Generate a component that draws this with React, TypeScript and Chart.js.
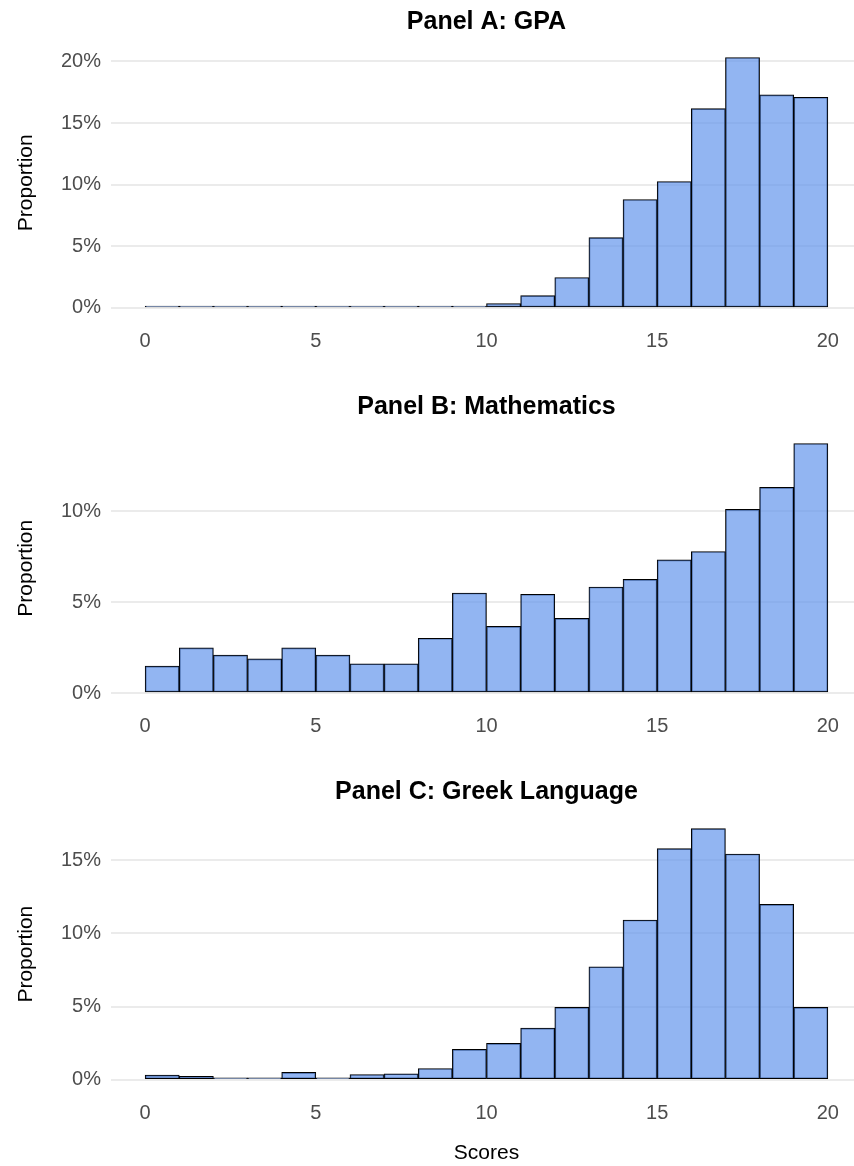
import { useEffect, useRef } from "react";
import { Chart, registerables } from "chart.js";

Chart.register(...registerables);

// Histogram bins: [start, start + 1) for scores 0..20
const binStarts = [0, 1, 2, 3, 4, 5, 6, 7, 8, 9, 10, 11, 12, 13, 14, 15, 16, 17, 18, 19];
const xTicks = [0, 5, 10, 15, 20];

// Share of students per bin, in percent
const gpaShare = [0.08, 0.02, 0.1, 0.01, 0.01, 0.01, 0.01, 0.04, 0.04, 0.05, 0.36, 1.0, 2.47, 5.71, 8.8, 10.26, 16.18, 20.32, 17.29, 17.1];
const mathShare = [1.48, 2.48, 2.08, 1.88, 2.48, 2.08, 1.61, 1.61, 3.01, 5.5, 3.66, 5.43, 4.1, 5.83, 6.25, 7.32, 7.78, 10.1, 11.31, 13.72];
const greekShare = [0.32, 0.23, 0.09, 0.09, 0.5, 0.05, 0.36, 0.41, 0.77, 2.07, 2.48, 3.53, 4.94, 7.72, 10.91, 15.79, 17.16, 15.42, 11.98, 4.94];

const gpaTicks = [0, 5, 10, 15, 20];
const mathTicks = [0, 5, 10];
const greekTicks = [0, 5, 10, 15];

const FONT = "'Liberation Sans', Arial, Helvetica, sans-serif";
const CANVAS_W = 870;
const AREA_LEFT = 111;
const AREA_RIGHT = 862;
const TICK_COLOR = "#4d4d4d";
const GRID_COLOR = "#ebebeb";
const BAR_FILL = "rgba(100, 149, 237, 0.7)";

type PanelSpec = {
  title: string;
  values: number[];
  yTicks: number[];
  top: number;
  height: number;
  areaTop: number;
  xAxisHeight: number;
  xTitle?: string;
};

const panels: PanelSpec[] = [
  { title: "Panel A: GPA", values: gpaShare, yTicks: gpaTicks, top: 0, height: 385, areaTop: 45, xAxisHeight: 64.5 },
  { title: "Panel B: Mathematics", values: mathShare, yTicks: mathTicks, top: 385, height: 385, areaTop: 46, xAxisHeight: 64.5 },
  { title: "Panel C: Greek Language", values: greekShare, yTicks: greekTicks, top: 770, height: 396, areaTop: 46, xAxisHeight: 73.7, xTitle: "Scores" },
];

function HistogramPanel({ spec }: { spec: PanelSpec }) {
  const ref = useRef<HTMLCanvasElement | null>(null);

  useEffect(() => {
    const canvas = ref.current;
    if (!canvas) return;
    const peak = Math.max(...spec.values);

    const textPlugin = {
      id: "panelText",
      afterDraw(chart: any) {
        const { ctx, chartArea } = chart;
        const cx = (chartArea.left + chartArea.right) / 2;
        ctx.save();
        ctx.fillStyle = "#000000";
        ctx.textBaseline = "alphabetic";
        ctx.textAlign = "center";
        ctx.font = `bold 25px ${FONT}`;
        ctx.fillText(spec.title, cx, 28.5);

        ctx.font = `21px ${FONT}`;
        ctx.save();
        ctx.translate(32, (chartArea.top + chartArea.bottom) / 2);
        ctx.rotate(-Math.PI / 2);
        ctx.fillText("Proportion", 0, 0);
        ctx.restore();

        if (spec.xTitle) {
          ctx.fillText(spec.xTitle, cx, spec.height - 7);
        }
        ctx.restore();
      },
    };

    const chart = new Chart(canvas, {
      type: "bar",
      data: {
        datasets: [
          {
            data: spec.values.map((v, i) => ({ x: binStarts[i] + 0.5, y: v })),
            backgroundColor: BAR_FILL,
            borderColor: "#000000",
            borderWidth: 1,
            borderSkipped: false,
            barPercentage: 1,
            categoryPercentage: 1,
            minBarLength: 2,
          } as any,
        ],
      },
      options: {
        responsive: false,
        maintainAspectRatio: false,
        animation: false,
        events: [],
        layout: { padding: { top: spec.areaTop, left: 0, right: CANVAS_W - AREA_RIGHT, bottom: 0 } },
        plugins: { legend: { display: false }, tooltip: { enabled: false }, title: { display: false } },
        scales: {
          x: {
            type: "linear",
            min: -1,
            max: 21,
            offset: false,
            grid: { display: false },
            border: { display: false },
            ticks: { autoSkip: false, maxRotation: 0, padding: 1, color: TICK_COLOR, font: { family: FONT, size: 20 } },
            afterBuildTicks: (s: any) => {
              s.ticks = xTicks.map((v) => ({ value: v }));
            },
            afterFit: (s: any) => {
              s.height = spec.xAxisHeight;
            },
          },
          y: {
            type: "linear",
            min: -0.05 * peak,
            max: 1.05 * peak,
            grid: { color: GRID_COLOR, lineWidth: 2, drawTicks: false },
            border: { display: false },
            ticks: {
              autoSkip: false,
              padding: 10,
              color: TICK_COLOR,
              font: { family: FONT, size: 20 },
              callback: (v: any) => `${v}%`,
            },
            afterBuildTicks: (s: any) => {
              s.ticks = spec.yTicks.map((v) => ({ value: v }));
            },
            afterFit: (s: any) => {
              s.width = AREA_LEFT;
            },
          },
        },
      } as any,
      plugins: [textPlugin],
    });

    return () => chart.destroy();
  }, [spec]);

  return (
    <canvas
      ref={ref}
      width={CANVAS_W}
      height={spec.height}
      style={{ position: "absolute", left: 0, top: spec.top, width: CANVAS_W, height: spec.height }}
    />
  );
}

export default function App() {
  return (
    <div
      style={{
        position: "absolute",
        left: 0,
        top: 0,
        width: 854,
        height: 1166,
        overflow: "hidden",
        background: "#ffffff",
      }}
    >
      {panels.map((p) => (
        <HistogramPanel key={p.title} spec={p} />
      ))}
    </div>
  );
}
